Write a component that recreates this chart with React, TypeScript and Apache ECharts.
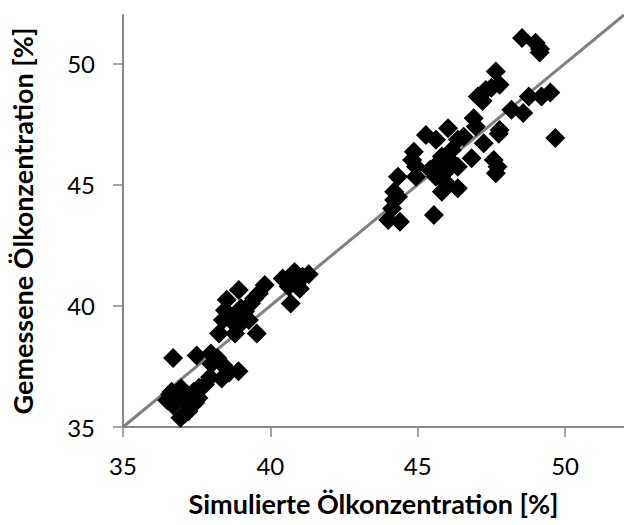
import React, { useEffect, useRef } from "react";
import * as echarts from "echarts";

// Simulated (x) and measured (y) oil concentration [%]
const simX: number[] = [
  36.7, 37.5, 37.98, 38.2, 38.0, 38.4, 38.6, 38.92, 38.35, 37.95, 37.78, 37.58, 37.4,
  36.97, 36.65, 36.75, 36.5, 36.7, 37.05, 37.25, 37.45, 37.56, 37.1, 36.95, 37.22, 36.6,
  40.82, 41.09, 40.42, 41.3, 40.62, 40.9, 40.69, 41.0, 39.81, 39.61, 39.34, 38.93, 38.52,
  38.46, 38.39, 38.66, 38.93, 39.14, 39.27, 38.8, 38.26, 39.54, 38.93, 39.0, 39.45,
  44.0, 44.4, 44.13, 44.2, 44.33, 44.2, 44.33, 44.94, 44.94, 44.81, 44.87, 45.55, 45.82,
  46.36, 45.42, 45.62, 45.96, 46.36, 45.69, 45.82, 46.16, 45.28, 45.62, 46.03, 46.36,
  46.56, 46.83, 47.24, 47.58, 47.71, 47.65, 46.97, 46.9, 47.78, 47.75, 45.95, 46.1,
  47.65, 47.78, 47.04, 47.31, 47.5, 47.2, 48.18, 48.58, 48.77, 49.2, 49.5, 48.54, 49.0,
  49.15, 49.14, 49.67,
];
const measY: number[] = [
  37.85, 37.95, 38.03, 37.85, 37.6, 37.55, 37.25, 37.3, 37.0, 37.05, 36.75, 36.62, 36.45,
  36.6, 36.45, 36.25, 36.1, 35.9, 36.1, 35.9, 36.0, 36.2, 35.55, 35.38, 35.65, 36.35,
  41.4, 41.2, 41.13, 41.3, 40.8, 40.9, 40.1, 40.7, 40.86, 40.51, 40.1, 40.65, 40.25,
  39.82, 39.41, 39.4, 39.62, 39.77, 39.41, 38.86, 38.86, 38.86, 39.2, 39.9, 40.3,
  43.54, 43.47, 44.02, 44.37, 44.5, 44.71, 45.33, 45.33, 45.74, 46.02, 46.36, 43.75, 44.71,
  44.85, 45.61, 45.33, 45.54, 45.74, 45.88, 46.16, 46.43, 47.05, 46.85, 47.33, 46.85,
  46.98, 46.09, 46.71, 46.02, 45.74, 45.47, 47.4, 47.74, 47.26, 47.1, 45.1, 46.0,
  49.67, 49.12, 48.64, 48.91, 49.0, 48.45, 48.09, 47.96, 48.64, 48.64, 48.8, 51.05, 50.85,
  50.6, 50.45, 46.92,
];
const identityLine: number[][] = [
  [35, 35],
  [52, 52],
];
const tickValues: number[] = [35, 40, 45, 50];
const xTitle = "Simulierte Ölkonzentration [%]";
const yTitle = "Gemessene Ölkonzentration [%]";

export default function App() {
  const ref = useRef<HTMLDivElement>(null);
  useEffect(() => {
    if (!ref.current) return;
    const chart = echarts.init(ref.current, null, { renderer: "svg" });
    const font = "Lato, 'Open Sans', sans-serif";
    const axisColor = "#878787";
    const commonAxis = {
      type: "value" as const,
      min: 35,
      max: 52,
      interval: 5,
      axisLine: { show: true, lineStyle: { color: axisColor, width: 2 } },
      axisTick: {
        show: true,
        inside: false,
        length: 10,
        lineStyle: { color: axisColor, width: 1.5 },
        customValues: tickValues,
      },
      splitLine: { show: false },
      nameLocation: "middle" as const,
      nameTextStyle: { fontFamily: font, fontSize: 27, fontWeight: "bold", color: "#000" },
    };
    chart.setOption({
      animation: false,
      backgroundColor: "#fff",
      grid: { left: 123, right: 0, top: 15, bottom: 98, containLabel: false },
      xAxis: {
        ...commonAxis,
        name: xTitle,
        nameGap: 63,
        axisLabel: {
          fontFamily: font,
          fontSize: 24,
          color: "#000",
          margin: 26,
          customValues: tickValues,
        },
      },
      yAxis: {
        ...commonAxis,
        name: yTitle,
        nameGap: 87,
        nameRotate: 90,
        axisLabel: {
          fontFamily: font,
          fontSize: 24,
          color: "#000",
          margin: 28,
          customValues: tickValues,
        },
      },
      series: [
        {
          type: "line",
          data: identityLine,
          symbol: "none",
          lineStyle: { color: "#808080", width: 3 },
          z: 1,
          silent: true,
        },
        {
          type: "scatter",
          data: simX.map((x, i) => [x, measY[i]]),
          symbol: "diamond",
          symbolSize: 20,
          itemStyle: { color: "#000", opacity: 1 },
          z: 2,
        },
      ],
    });
    return () => chart.dispose();
  }, []);
  return (
    <div
      ref={ref}
      style={{ position: "absolute", left: 0, top: 0, width: 624, height: 525 }}
    />
  );
}
